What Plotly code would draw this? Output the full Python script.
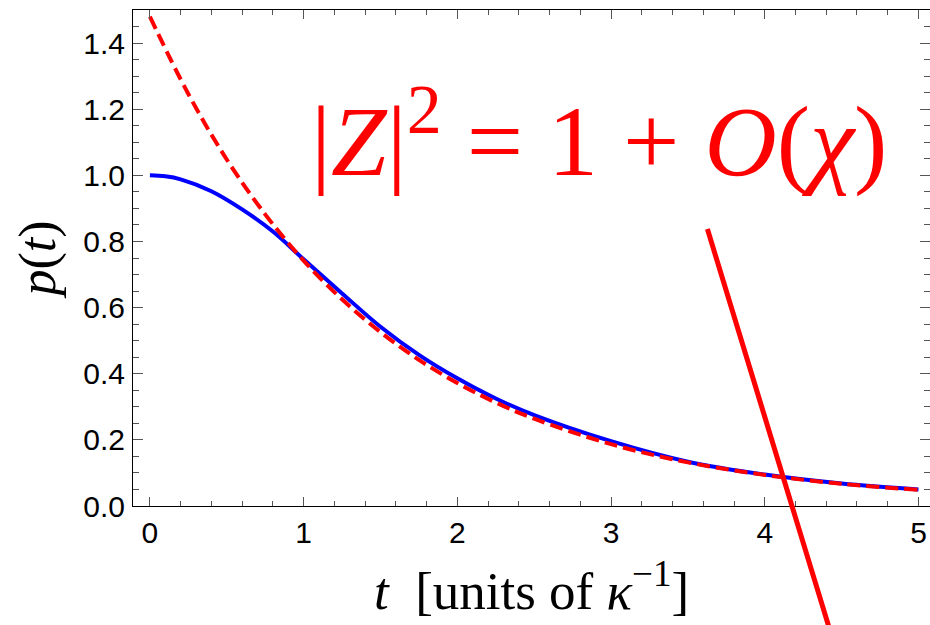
import plotly.graph_objects as go

# values
t_blue = [0.0, 0.1, 0.2, 0.4, 0.6, 0.8, 1.0, 1.25, 1.5, 1.75, 2.0, 2.25, 2.5, 3.0, 3.5, 4.0, 4.5, 5.0]
p_blue = [1.000, 0.997, 0.988, 0.952, 0.897, 0.830, 0.746, 0.643, 0.542, 0.457, 0.386, 0.325, 0.275, 0.196, 0.134, 0.095, 0.068, 0.050]

t_red = [0.0, 0.25, 0.5, 0.75, 1.0, 1.25, 1.5, 1.75, 2.0, 2.25, 2.5, 3.0, 3.5, 4.0, 4.5, 5.0]
p_red = [1.480, 1.246, 1.048, 0.882, 0.742, 0.625, 0.526, 0.442, 0.372, 0.313, 0.264, 0.187, 0.132, 0.094, 0.067, 0.049]

# the slanted red stroke (start, end) in data units
stroke_t = [3.624, 4.42]
stroke_p = [0.842, -0.37]

x_ticks = [0, 1, 2, 3, 4, 5]
y_ticks = [0.0, 0.2, 0.4, 0.6, 0.8, 1.0, 1.2, 1.4]

fig = go.Figure()
fig.add_trace(go.Scatter(x=t_blue, y=p_blue, mode="lines",
                         line=dict(color="#0000ff", width=4, shape="spline", smoothing=1.0),
                         showlegend=False, hoverinfo="skip"))
fig.add_trace(go.Scatter(x=t_red, y=p_red, mode="lines",
                         line=dict(color="#ff0000", width=4, dash="13px,6px", shape="spline", smoothing=1.0),
                         showlegend=False, hoverinfo="skip"))

fig.add_annotation(x=stroke_t[1], y=stroke_p[1], ax=stroke_t[0], ay=stroke_p[0],
                   xref="x", yref="y", axref="x", ayref="y",
                   text="", showarrow=True, arrowhead=0, arrowwidth=5,
                   arrowcolor="#ff0000", standoff=0, startstandoff=0)

fig.add_annotation(x=2.92, y=1.125, xref="x", yref="y", xanchor="center", yanchor="middle",
                   text="|<i>Z</i>|<sup>2</sup> = 1 + <i>O</i>(<i>χ</i>)", showarrow=False,
                   font=dict(family="Liberation Serif", size=100, color="#ff0000"))

tickfont = dict(family="Liberation Sans", size=30, color="#000000")
fig.update_xaxes(range=[-0.11, 5.075], tickvals=x_ticks, ticktext=[str(v) for v in x_ticks],
                 automargin=False,
                 showline=True, linecolor="#000000", linewidth=1, mirror="allticks",
                 ticks="inside", ticklen=9, tickwidth=1, tickcolor="#555555",
                 minor=dict(dtick=0.2, tick0=0, ticks="inside", ticklen=5, tickwidth=1, tickcolor="#555555"),
                 showgrid=False, zeroline=False, tickfont=tickfont, ticklabelstandoff=0,
                 title=dict(text="\u2009\u2009<i>t</i>\u00a0\u00a0[units of <i>κ</i><sup>−1</sup>]",
                            font=dict(family="Liberation Serif", size=53, color="#000000"),
                            standoff=23))
fig.update_yaxes(range=[0, 1.5], tickvals=y_ticks, ticktext=[f"{v:.1f}" for v in y_ticks],
                 automargin=False,
                 showline=True, linecolor="#000000", linewidth=1, mirror="allticks",
                 ticks="inside", ticklen=10, tickwidth=1, tickcolor="#555555",
                 minor=dict(dtick=0.05, tick0=0, ticks="inside", ticklen=6, tickwidth=1, tickcolor="#555555"),
                 showgrid=False, zeroline=False, tickfont=tickfont, ticklabelstandoff=1,
                 title=dict(text="<i>p</i>(<i>t</i>)",
                            font=dict(family="Liberation Serif", size=52, color="#000000"),
                            standoff=11))

fig.update_layout(width=930, height=625, margin=dict(l=133, r=0, t=10, b=119),
                  plot_bgcolor="#ffffff", paper_bgcolor="#ffffff")

fig.write_html("out.html", config={"displayModeBar": False},
               post_script="document.body.style.margin='0';document.body.style.overflow='hidden';")
